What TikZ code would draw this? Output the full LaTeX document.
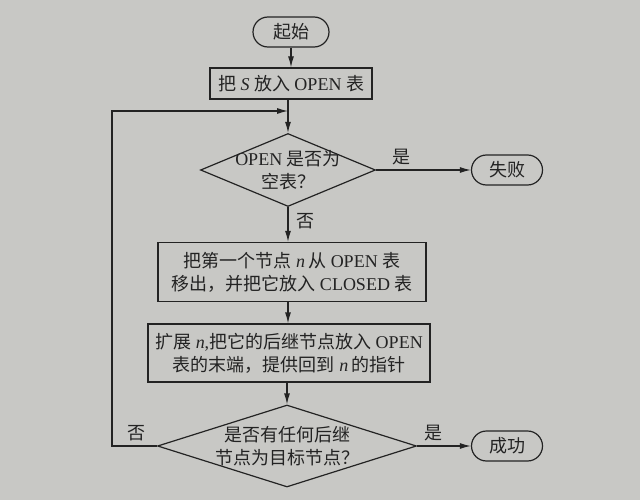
\documentclass[tikz,border=0pt]{standalone}
\usepackage{fontspec}
\setmainfont{Liberation Serif}
\newfontfamily\cjk{Noto Sans CJK SC}
\usetikzlibrary{shapes.geometric,arrows.meta}
\definecolor{paper}{RGB}{200,200,197}
\definecolor{ink}{RGB}{35,35,35}
\newcommand{\zh}[1]{{\cjk #1}}

\begin{document}
\begin{tikzpicture}[x=1pt,y=-1pt,
  every node/.style={font=\fontsize{18}{23}\selectfont,text=ink,align=center},
  terminal/.style={draw=ink,line width=1.2pt,rounded corners=15pt,
                   minimum width=76pt,minimum height=30pt,inner sep=0pt},
  process/.style={draw=ink,line width=1.2pt,minimum height=31pt,inner sep=0pt},
  decision/.style={draw=ink,line width=1.2pt,diamond,inner sep=0pt},
  flow/.style={draw=ink,line width=1.2pt,-{Latex[length=11pt,width=6pt]}},
  answer/.style={font=\fontsize{18}{20}\selectfont\cjk,inner sep=4pt}]
  \fill[paper] (0,0) rectangle (640,500);
  \node[terminal] (start) at (291,32) {\zh{起始}};
  \node[process,minimum width=162pt] (init) at (291,83.5)
    {\zh{把} \textit{S} \zh{放入} OPEN \zh{表}};
  \node[decision,aspect=2.4,minimum width=175pt,minimum height=73pt,inner sep=-5pt]
    (empty) at (288,170) {OPEN \zh{是否为}\\ \zh{空表？}};
  \node[terminal,minimum width=71pt] (fail) at (507,170) {\zh{失败}};
  \node[process,minimum width=268pt,minimum height=59pt] (move) at (292,272)
    {\zh{把第一个节点} \textit{n}\,\zh{从} OPEN \zh{表}\\
     \zh{移出，并把它放入} CLOSED \zh{表}};
  \node[process,minimum width=282pt,minimum height=58pt] (expand) at (289,353)
    {\zh{扩展} \textit{n},\zh{把它的后继节点放入} OPEN\\
     \zh{表的末端，提供回到} \textit{n}\,\zh{的指针}};
  \node[decision,aspect=3.16,minimum width=259pt,minimum height=82pt,inner sep=-2pt]
    (goal) at (287,446) {\zh{是否有任何后继}\\ \zh{节点为目标节点？}};
  \node[terminal,minimum width=71pt] (success) at (507,446) {\zh{成功}};
  \coordinate (merge) at (288,111);
  \coordinate (turn) at (112,446);
  \draw[flow] (start) -- (init);
  \draw[flow] (init.south -| merge) -- (empty);
  \draw[flow] (empty) -- node[answer,above,pos=0.27] {是} (fail);
  \draw[flow] (empty) -- node[answer,right,pos=0.4,xshift=4pt] {否} (move.north -| empty);
  \draw[flow] (move.south -| empty) -- (expand.north -| empty);
  \draw[flow] (expand.south -| goal) -- (goal);
  \draw[flow] (goal) -- node[answer,above,pos=0.3] {是} (success);
  \draw[flow] (goal) -- node[answer,above,pos=0.45] {否} (turn) |- (merge);
\end{tikzpicture}
\end{document}
